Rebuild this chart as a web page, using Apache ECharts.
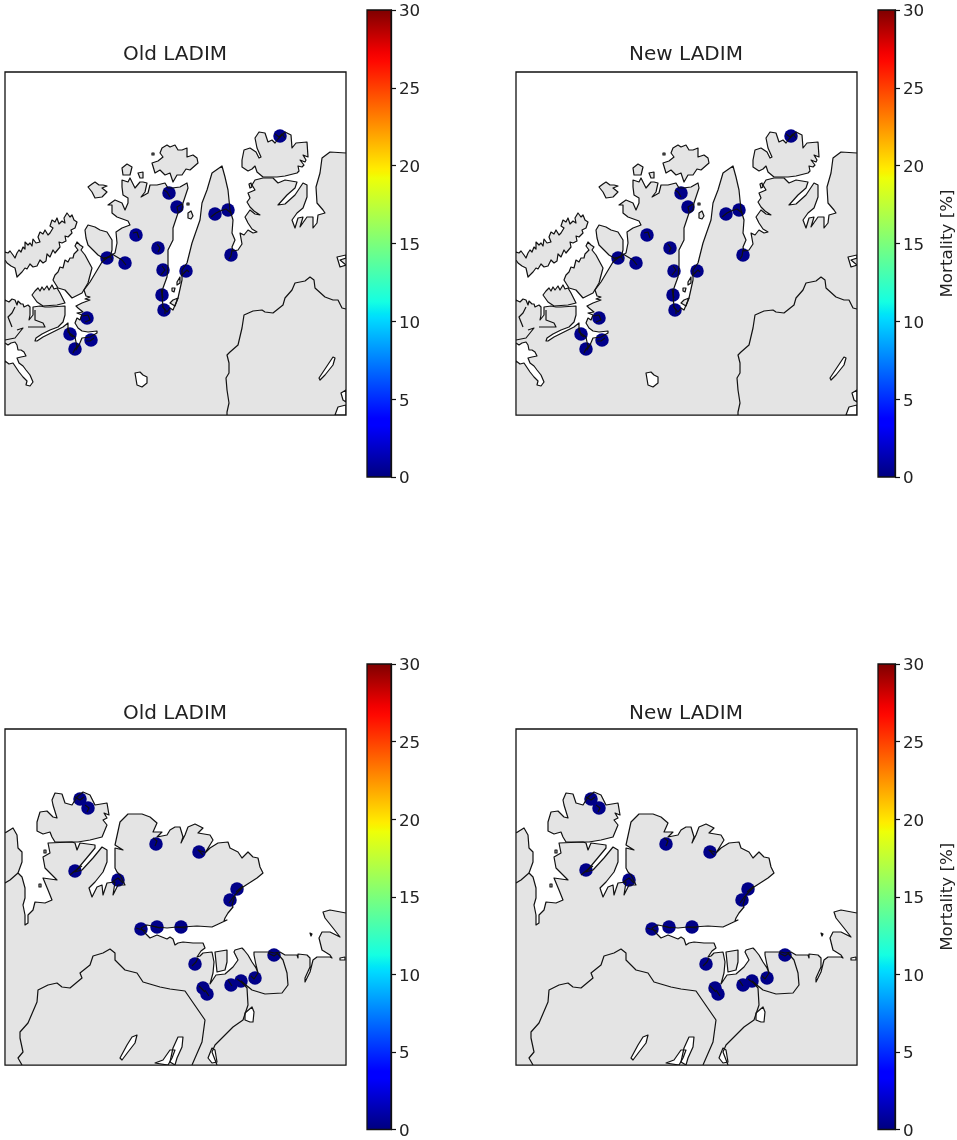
<!DOCTYPE html>
<html><head><meta charset="utf-8">
<style>html,body{margin:0;padding:0;background:#fff}#c{width:957px;height:1140px}</style>
<script src="https://cdn.jsdelivr.net/npm/echarts@6/dist/echarts.min.js"></script>
</head><body><div id="c"></div>
<script>
// ---- chart data: map outlines are in map units, markers are [x, y, mortality %]
const panelTitles = ['Old LADIM','New LADIM','Old LADIM','New LADIM'];
const colorbarTicks = [0,5,10,15,20,25,30];
const barLabel = 'Mortality [%]';

const oldNorthPoints = [[280,136,.3],[169,193,.3],[177,207,.4],[215,214,.3],[228,210,.3],[136,235,.5],[158,248,.3],[107,258,.4],[125,263,.4],[163,270,.3],[186,271,.4],[231,255,.3],[162,295,.4],[164,310,.3],[87,318,.4],[70,334,.5],[91,340,.5],[75,349,.4]];
const newNorthPoints = [[280,136,.2],[170,193,.3],[177,207,.3],[215,214,.3],[228,210,.3],[136,235,.4],[159,248,.3],[107,258,.3],[125,263,.3],[163,271,.3],[186,271,.3],[232,255,.3],[162,295,.3],[164,310,.3],[88,318,.3],[70,334,.4],[91,340,.4],[75,349,.3]];
const oldEastPoints = [[80,799,.2],[88,808,.3],[75,871,.3],[118,880,.3],[156,844,.3],[199,852,.3],[237,889,.3],[230,900,.3],[141,929,.3],[157,927,.3],[181,927,.3],[195,964,.3],[203,988,.3],[207,994,.3],[231,985,.3],[241,981,.3],[255,978,.3],[274,955,.3]];
const newEastPoints = [[80,799,.2],[88,808,.3],[75,870,.3],[118,880,.3],[155,844,.3],[199,852,.3],[237,889,.3],[231,900,.3],[141,929,.3],[158,927,.3],[181,927,.3],[195,964,.3],[204,988,.3],[207,994,.3],[232,985,.3],[241,981,.3],[256,978,.3],[274,955,.3]];

const northCoast = [[5,415],[5,361],[9,364],[13,363],[17,369],[19,372],[23,377],[27,381],[26,385],[30,386],[33,382],[30,375],[26,370],[23,366],[19,363],[17,358],[21,357],[26,356],[24,352],[21,350],[18,350],[17,345],[15,342],[11,343],[8,345],[5,343],
[5,300],[9,302],[12,299],[15,300],[17,305],[18,301],[21,304],[23,304],[24,307],[28,305],[30,307],[30,315],[29,320],[33,315],[33,307],[40,306],[45,307],[50,307],[65,306],[65,315],[63,322],[58,327],[50,330],[42,334],[36,338],[35,341],[37,341],[43,337],[53,332],[63,327],[68,323],[68,332],[75,337],[77,347],[76,350],[79,345],[82,338],[90,337],[97,333],[97,331],[88,332],[82,331],[78,328],[75,323],[77,318],[80,320],[82,315],[77,313],[83,312],[78,308],[76,306],[82,303],[90,300],[85,299],[90,297],[86,296],[84,290],[90,282],[96,272],[102,262],[107,258],[115,253],[117,243],[116,232],[122,228],[130,225],[128,221],[117,217],[112,213],[112,205],[108,205],[115,200],[122,203],[125,210],[128,203],[128,198],[123,195],[122,187],[122,180],[128,182],[130,178],[135,188],[140,182],[143,182],[147,183],[145,192],[141,197],[148,193],[150,185],[157,185],[165,183],[168,188],[172,188],[180,187],[187,183],[188,188],[185,197],[183,203],[182,210],[178,213],[173,228],[173,240],[168,250],[168,265],[167,277],[163,288],[162,295],[163,307],[167,312],[170,308],[173,310],[178,298],[182,280],[182,270],[187,263],[192,243],[200,220],[202,203],[207,190],[212,173],[222,166],[225,177],[228,190],[230,210],[233,220],[232,233],[235,240],[232,247],[233,251],[238,250],[242,244],[240,233],[244,235],[248,230],[253,233],[257,232],[252,229],[248,223],[245,217],[250,210],[255,214],[260,215],[254,211],[250,207],[247,202],[250,198],[248,193],[255,190],[252,185],[255,180],[263,178],[273,178],[278,183],[285,180],[297,182],[295,188],[287,195],[278,205],[285,204],[295,195],[303,183],[307,185],[307,197],[303,208],[297,213],[292,220],[295,228],[298,218],[303,217],[300,227],[307,217],[313,217],[313,228],[317,223],[318,215],[325,213],[323,210],[317,203],[316,187],[320,173],[322,158],[330,152],[346,153],[346,415]];
const northIslands = [
 [[5,252],[8,253],[10,251],[13,255],[15,258],[17,253],[19,250],[21,252],[23,247],[25,249],[25,242],[28,245],[30,243],[32,246],[33,239],[36,243],[40,242],[38,237],[40,232],[43,234],[45,230],[48,235],[50,233],[53,228],[50,226],[52,220],[55,222],[57,218],[59,224],[62,221],[65,223],[64,218],[67,213],[70,217],[72,215],[74,220],[77,222],[75,228],[71,230],[72,233],[68,237],[65,236],[66,241],[62,243],[59,242],[60,247],[55,253],[53,250],[50,257],[47,254],[46,261],[43,263],[40,260],[37,266],[33,267],[30,264],[27,269],[25,268],[22,272],[17,277],[15,268],[11,266],[7,263],[5,260]],
 [[55,275],[58,272],[60,267],[63,268],[65,260],[68,262],[70,258],[73,258],[74,254],[78,250],[75,246],[77,242],[80,245],[83,247],[81,250],[85,255],[92,268],[88,283],[82,293],[72,298],[65,290],[58,288],[53,280]],
 [[32,295],[35,291],[38,288],[40,291],[42,287],[44,290],[47,286],[49,290],[52,285],[54,289],[57,288],[60,293],[62,297],[65,303],[57,305],[43,306],[37,302]],
 [[85,230],[88,225],[95,227],[100,230],[107,232],[112,240],[112,250],[110,257],[103,258],[98,255],[88,245],[86,238]],
 [[88,187],[92,184],[95,182],[99,185],[103,185],[107,186],[102,188],[107,192],[102,197],[95,198],[92,192]],
 [[122,168],[127,164],[132,167],[130,175],[123,175]],
 [[138,173],[143,172],[143,178],[140,178]],
 [[152,163],[158,161],[163,157],[160,153],[162,148],[167,145],[170,147],[175,145],[178,150],[182,150],[187,148],[187,157],[193,155],[197,158],[198,163],[190,170],[186,169],[182,175],[177,175],[173,182],[170,173],[165,175],[160,170],[155,173]],
 [[242,160],[244,150],[250,148],[256,152],[259,158],[261,157],[257,148],[255,138],[259,132],[265,133],[268,142],[272,140],[275,143],[278,139],[285,132],[291,135],[292,148],[296,143],[307,142],[308,157],[303,155],[306,160],[305,162],[300,160],[304,165],[302,167],[298,166],[299,171],[297,173],[285,176],[277,177],[263,177],[257,172],[255,166],[252,169],[248,171],[242,167]],
 [[249,184],[251,183],[252,187],[250,188]],
 [[188,213],[191,211],[193,216],[191,219],[188,218]],
 [[187,203],[189,203],[189,205],[187,205]],
 [[177,282],[180,277],[180,283],[177,285]],
 [[173,300],[178,298],[175,306],[170,303]],
 [[172,288],[175,288],[174,292],[172,291]],
 [[152,153],[154,153],[154,155],[152,155]]
];
const northLakes = [
 [[135,373],[140,372],[143,375],[147,377],[147,383],[142,387],[137,385]],
 [[333,357],[335,358],[333,365],[325,375],[320,380],[319,378],[323,372]],
 [[337,257],[346,255],[346,258],[340,260],[346,265],[340,267]],
 [[335,415],[338,407],[346,405],[346,415]],
 [[341,393],[346,390],[346,402],[343,400]]
];
const northLines = [
 [[227,415],[227,412],[229,403],[227,390],[226,378],[229,373],[229,363],[227,355],[230,352],[238,345],[242,328],[244,315],[253,311],[262,310],[265,312],[273,313],[283,305],[285,298],[292,290],[295,283],[305,281],[310,277],[314,280],[315,288],[325,297],[333,300],[338,300],[342,308],[346,309]],
 [[28,327],[45,327],[43,323],[35,320],[35,310]],
 [[15,307],[12,313],[8,317],[12,327]],
 [[17,330],[23,328],[15,338],[5,340]],
 [[164,190],[167,192],[170,197]],[[182,204],[177,207],[178,212]],[[211,217],[216,213],[220,211]],[[220,211],[226,209],[231,213]],[[275,134],[279,137],[282,134],[285,138]],[[133,233],[137,232],[139,238]],[[157,244],[160,248],[158,252]],[[103,259],[110,256],[112,260]],[[112,254],[122,260],[126,265]],[[162,266],[165,270],[161,275]],[[181,276],[187,270],[189,272]],[[232,250],[231,256],[229,259]],[[161,289],[163,298]],[[162,306],[165,310],[165,314]],[[83,316],[88,315],[90,320],[85,322]],[[68,328],[70,335],[73,337]],[[86,341],[90,341],[94,338]],[[79,345],[75,349],[73,353]]
];

const eastCoast = [[5,833],[13,828],[17,835],[18,848],[22,852],[22,862],[18,873],[22,877],[25,888],[25,898],[23,905],[25,915],[25,925],[28,923],[28,915],[33,910],[35,902],[45,903],[52,900],[48,890],[43,878],[57,880],[45,868],[43,857],[50,853],[48,843],[72,842],[75,843],[77,850],[80,843],[95,845],[95,848],[85,860],[75,872],[82,870],[93,858],[102,847],[107,850],[107,862],[103,872],[95,882],[89,888],[92,897],[97,887],[102,885],[103,895],[107,883],[115,882],[113,895],[118,885],[125,885],[120,875],[117,872],[115,868],[115,848],[123,850],[115,845],[120,822],[128,814],[142,814],[150,817],[157,823],[153,832],[162,832],[157,837],[167,835],[170,830],[175,827],[180,827],[183,837],[181,843],[185,835],[188,827],[195,824],[203,828],[198,833],[210,835],[213,840],[205,853],[210,848],[218,843],[228,842],[230,848],[238,852],[242,858],[248,852],[253,857],[258,858],[260,867],[263,873],[257,878],[243,887],[235,895],[232,905],[233,907],[228,913],[225,918],[224,921],[227,920],[212,927],[197,926],[182,927],[177,927],[167,928],[157,927],[147,925],[141,928],[145,933],[150,938],[157,935],[167,939],[170,937],[173,939],[175,945],[178,943],[183,942],[193,943],[203,943],[205,948],[201,951],[197,957],[200,956],[203,953],[212,952],[214,962],[213,973],[210,984],[216,975],[225,974],[233,967],[238,960],[234,952],[235,950],[242,948],[244,950],[248,955],[252,962],[256,968],[258,973],[256,965],[254,955],[254,952],[270,952],[274,953],[280,952],[285,955],[297,955],[298,958],[298,954],[307,955],[310,958],[310,967],[305,978],[305,982],[310,972],[313,960],[317,957],[330,957],[332,958],[330,955],[322,950],[319,938],[322,932],[330,932],[340,937],[333,928],[325,918],[323,912],[330,910],[346,913],[346,1065],[5,1065]];
const eastIslands = [
 [[37,822],[40,812],[47,811],[53,817],[57,818],[53,805],[52,800],[55,793],[62,794],[65,803],[72,805],[77,797],[83,792],[90,795],[95,805],[107,803],[109,815],[104,813],[107,818],[103,820],[107,825],[102,837],[90,840],[78,842],[55,842],[52,837],[50,832],[43,834],[37,831]],
 [[215,952],[227,950],[227,962],[225,970],[217,972]],
 [[44,850],[46,850],[46,853],[44,853]],
 [[39,884],[41,884],[41,887],[39,887]],
 [[310,933],[312,934],[311,936]]
];
const eastLakes = [
 [[120,1058],[127,1045],[132,1037],[137,1035],[135,1043],[128,1052],[122,1060]],
 [[170,1062],[173,1048],[178,1037],[183,1037],[182,1047],[177,1058],[175,1065]],
 [[155,1063],[163,1060],[170,1050],[175,1050],[172,1058],[168,1065]],
 [[245,1013],[252,1007],[254,1012],[253,1022],[250,1022],[245,1020]],
 [[208,1058],[212,1048],[215,1050],[217,1062],[212,1063]],
 [[340,958],[345,957],[345,960],[340,960]]
];
const eastLines = [
 [[22,1065],[18,1058],[23,1052],[20,1038],[20,1032],[28,1023],[37,1002],[38,990],[48,985],[57,983],[62,987],[70,988],[82,978],[80,973],[90,965],[93,956],[103,953],[110,949],[115,953],[115,960],[125,970],[137,973],[143,982],[160,987],[170,989],[185,991],[205,1020],[202,1042],[192,1065]],
 [[241,981],[247,988],[248,1005],[243,1020],[233,1027],[215,1045],[212,1052],[217,1065]],
 [[241,981],[252,990],[265,994],[282,993],[288,985],[287,973],[283,960],[277,953]],
 [[5,883],[10,880],[18,873]],
 [[75,797],[80,800],[84,797]],[[85,805],[89,808],[87,812]],[[70,875],[76,870],[82,866]],[[112,882],[118,878],[123,883]],[[153,838],[157,841],[155,846]],[[204,852],[198,850],[203,855]],[[243,886],[236,892]],[[234,896],[229,903]],[[136,928],[146,931]],[[152,926],[160,928]],[[176,927],[186,928]],[[198,958],[196,962],[192,966]],[[199,986],[205,992]],[[205,990],[209,996]],[[228,980],[232,986]],[[237,979],[244,984]],[[258,973],[254,979],[251,976]],[[268,953],[274,956],[278,953]]
];

const jetStops = [[0,'#00007f'],[.11,'#0000ff'],[.125,'#0000ff'],[.34,'#00dbff'],[.35,'#00e6f7'],[.375,'#15ffe2'],[.64,'#eeff08'],[.65,'#f7f500'],[.66,'#ffec00'],[.89,'#ff0800'],[.91,'#f20000'],[1,'#7f0000']];
const jetColors = ['#00007f','#0000ff','#0000ff','#00ffff','#7fff7f','#ffff00','#ff0000','#7f0000'];

// ---- layout
const panels = [
 {x:5,  y:72,  w:341, h:343, xr:[5,346], yr:[72,415],   cx:367, cy:10,  ch:467, pts:oldNorthPoints, map:'north', name:false, tt:32},
 {x:516,y:72,  w:341, h:343, xr:[5,346], yr:[72,415],   cx:878, cy:10,  ch:467, pts:newNorthPoints, map:'north', name:true,  tt:32},
 {x:5,  y:729, w:341, h:336, xr:[5,346], yr:[729,1065], cx:367, cy:664, ch:466, pts:oldEastPoints,  map:'east',  name:false, tt:30},
 {x:516,y:729, w:341, h:336, xr:[5,346], yr:[729,1065], cx:878, cy:664, ch:466, pts:newEastPoints,  map:'east',  name:true,  tt:30}
];
const maps = {
 north:{coast:northCoast,islands:northIslands,lakes:northLakes,lines:northLines},
 east:{coast:eastCoast,islands:eastIslands,lakes:eastLakes,lines:eastLines}
};

function shapeSeries(ax, list, kind, fill, stroke, z){
  return {type:'custom', xAxisIndex:ax, yAxisIndex:ax, z:z, silent:true, clip:true, animation:false,
    data:list.map((_,i)=>[i]),
    renderItem:(p,api)=>{
      const pts=list[api.value(0)].map(c=>api.coord(c));
      return {type:kind, shape:{points:pts},
        style:{fill:fill, stroke:stroke, lineWidth:stroke?1.2:0, lineJoin:'round'}};
    }};
}

const grids=[],xAxes=[],yAxes=[],series=[],titles=[],scatterIdx=[];
const gradient=new echarts.graphic.LinearGradient(0,1,0,0,jetStops.map(s=>({offset:s[0],color:s[1]})));
panels.forEach((p,i)=>{
  const m=maps[p.map];
  grids.push({left:p.x,top:p.y,width:p.w,height:p.h,show:true,borderColor:'#111',borderWidth:1.3,backgroundColor:'#fff'});
  xAxes.push({type:'value',gridIndex:i*2,min:p.xr[0],max:p.xr[1],show:false});
  yAxes.push({type:'value',gridIndex:i*2,min:p.yr[0],max:p.yr[1],inverse:true,show:false});
  const ax=i*2;
  series.push(shapeSeries(ax,[m.coast],'polygon','#e4e4e4',null,1));
  series.push(shapeSeries(ax,m.islands,'polygon','#e4e4e4',null,1));
  series.push(shapeSeries(ax,m.lakes,'polygon','#ffffff',null,2));
  scatterIdx.push(series.length);
  series.push({type:'scatter',xAxisIndex:ax,yAxisIndex:ax,data:p.pts,symbolSize:13.5,z:3,silent:true,animation:false,
    itemStyle:{opacity:1},encode:{x:0,y:1}});
  series.push(shapeSeries(ax,[m.coast],'polygon','none','#111',4));
  series.push(shapeSeries(ax,m.islands,'polygon','none','#111',4));
  series.push(shapeSeries(ax,m.lakes,'polygon','none','#111',4));
  series.push(shapeSeries(ax,m.lines,'polyline','none','#111',4));
  titles.push({text:panelTitles[i],left:p.x+p.w/2-5.5,top:p.y-p.tt,textAlign:'center',
    textStyle:{fontFamily:'DejaVu Sans',fontSize:20,fontWeight:'normal',color:'#222'}});
  // colorbar
  grids.push({left:p.cx,top:p.cy,width:24,height:p.ch,show:true,borderColor:'#111',borderWidth:1.3,z:5});
  xAxes.push({type:'category',gridIndex:i*2+1,data:[''],show:false});
  yAxes.push({type:'value',gridIndex:i*2+1,min:0,max:30,interval:5,position:'right',
    axisLine:{show:true,lineStyle:{color:'#111',width:1.3}},axisTick:{show:true,length:5,lineStyle:{color:'#111',width:1.2}},
    splitLine:{show:false},
    axisLabel:{show:true,margin:8,
      formatter:v=>colorbarTicks.includes(v)?'{t|'+v+'}':'',
      rich:{t:{fontFamily:'DejaVu Sans',fontSize:16.7,color:'#222',padding:[4,0,0,0]}}},
    name:p.name?barLabel:'',nameLocation:'middle',nameRotate:90,nameGap:44,
    nameTextStyle:{fontFamily:'DejaVu Sans',fontSize:16.7,color:'#222'}});
  series.push({type:'bar',xAxisIndex:i*2+1,yAxisIndex:i*2+1,data:[30],barWidth:'100%',silent:true,animation:false,
    itemStyle:{color:gradient}});
});

const chart=echarts.init(document.getElementById('c'),null,{renderer:'canvas'});
chart.setOption({
  animation:false,backgroundColor:'#fff',title:titles,grid:grids,xAxis:xAxes,yAxis:yAxes,series:series,
  visualMap:{show:false,type:'continuous',min:0,max:30,dimension:2,seriesIndex:scatterIdx,inRange:{color:jetColors}},
  tooltip:{show:false}
});
</script></body></html>
